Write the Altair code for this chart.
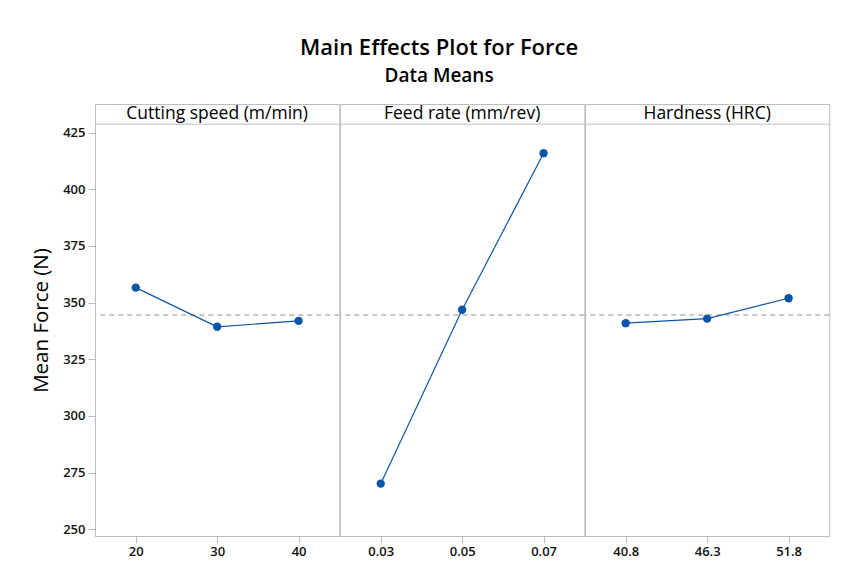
import altair as alt
import pandas as pd

# ---- data ----
cutting_levels = ["20", "30", "40"]
cutting_means = [356.6, 339.3, 341.9]
feed_levels = ["0.03", "0.05", "0.07"]
feed_means = [270.1, 346.8, 415.9]
hard_levels = ["40.8", "46.3", "51.8"]
hard_means = [340.9, 342.9, 351.9]
panel_names = ["Cutting speed (m/min)", "Feed rate (mm/rev)", "Hardness (HRC)"]
grand_mean = 344.5
y_ticks = [250, 275, 300, 325, 350, 375, 400, 425]

FONT = "Open Sans"
BLUE = "#0B55A8"
GRAY = "#BDBDBD"
W = 244.3
PLOT_TOP = 428.7      # top of the data region; the strip header sits above it
HEAD_TOP = 437.6
Y_DOMAIN = [247.0, HEAD_TOP]
H = 432

rows = []
for name, levels, means in zip(panel_names,
                               [cutting_levels, feed_levels, hard_levels],
                               [cutting_means, feed_means, hard_means]):
    for i, (lv, m) in enumerate(zip(levels, means)):
        rows.append({"factor": name, "level": lv, "mean": m, "idx": i,
                     "grand": grand_mean, "sep": PLOT_TOP,
                     "heady": (PLOT_TOP + HEAD_TOP) / 2})
df = pd.DataFrame(rows)

yscale = alt.Scale(domain=Y_DOMAIN, nice=False, zero=False)
yaxis = alt.Axis(values=y_ticks, title="Mean Force (N)", titleFontSize=20.5,
                 titleFontWeight="normal", titleFont=FONT, titleColor="#000000",
                 titlePadding=11, labelPadding=3, tickSize=7)
x = alt.X("level:N", scale=alt.Scale(type="point", padding=0.5),
          axis=alt.Axis(title=None, labelAngle=0, tickSize=7, labelPadding=2))
y = alt.Y("mean:Q", scale=yscale, axis=yaxis)

base = alt.Chart(df)
first = base.transform_filter(alt.datum.idx == 0)

mean_rule = first.mark_rule(color="#B5B5B5", strokeDash=[5, 4], strokeWidth=1.3).encode(
    y=alt.Y("grand:Q", scale=yscale, axis=yaxis)
)
sep_rule = first.mark_rule(color=GRAY, strokeWidth=1).encode(
    y=alt.Y("sep:Q", scale=yscale, axis=yaxis)
)
head_text = first.mark_text(
    font=FONT, fontSize=17.5, color="#000000", baseline="middle", align="center"
).encode(text="factor:N", x=alt.value(W / 2),
         y=alt.Y("heady:Q", scale=yscale, axis=yaxis))
line = base.mark_line(color=BLUE, strokeWidth=1.2).encode(x=x, y=y)
pts = base.mark_circle(color=BLUE, size=70, opacity=1).encode(x=x, y=y)

layered = alt.layer(mean_rule, sep_rule, head_text, line, pts).properties(width=W, height=H)

chart = layered.facet(
    column=alt.Column("factor:N", sort=panel_names, header=None),
    spacing=0, bounds="flush",
).resolve_scale(x="independent").properties(
    title=alt.TitleParams(
        text="Main Effects Plot for Force",
        subtitle="Data Means",
        font=FONT, fontSize=22, fontWeight=600, color="#000000",
        subtitleFont=FONT, subtitleFontSize=19, subtitleFontWeight=600,
        subtitleColor="#000000", subtitlePadding=7,
        anchor="middle", offset=17, dx=8,
    ),
    padding={"left": 31, "top": 36, "right": 10, "bottom": 10},
    background="white",
).configure_view(
    stroke=GRAY, strokeWidth=1
).configure_axis(
    domainColor=GRAY, tickColor=GRAY, grid=False, labelFont=FONT,
    labelFontSize=13, labelColor="#111111", labelFontWeight=600,
)

chart.save("out.html", embed_options={"renderer": "svg", "actions": False})
